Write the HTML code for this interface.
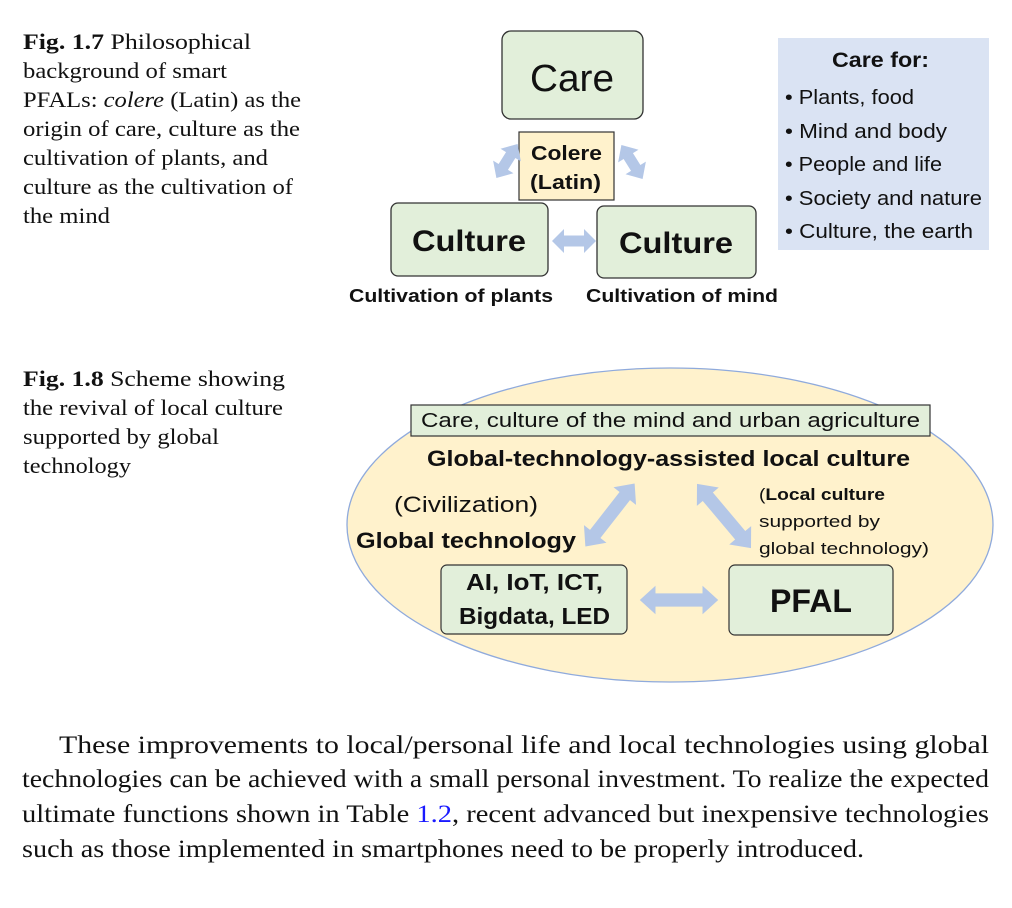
<!DOCTYPE html>
<html><head><meta charset="utf-8"><style>
html,body{margin:0;padding:0;background:#fff;width:1012px;height:908px;overflow:hidden;position:relative}
svg{position:absolute;left:0;top:0}
</style></head><body>
<svg width="1012" height="908" viewBox="0 0 1012 908" font-family="Liberation Sans, sans-serif">
<defs>
<polygon id="da" points="-40,0 -24,-13 -24,-6 24,-6 24,-13 40,0 24,13 24,6 -24,6 -24,13" fill="#b4c7e7"/>
<polygon id="ds" points="-20,0 -7,-12 -7,-5.5 7,-5.5 7,-12 20,0 7,12 7,5.5 -7,5.5 -7,12" fill="#b4c7e7"/>
<polygon id="dh" points="-22,0 -10,-12 -10,-5.5 10,-5.5 10,-12 22,0 10,12 10,5.5 -10,5.5 -10,12" fill="#b4c7e7"/>
</defs>
<!-- captions -->
<g font-family="Liberation Serif, serif" font-size="22" fill="#111" lengthAdjust="spacingAndGlyphs">
<text x="23" y="49" textLength="228" lengthAdjust="spacingAndGlyphs"><tspan font-weight="bold">Fig. 1.7</tspan>  Philosophical</text>
<text x="23" y="78" textLength="204" lengthAdjust="spacingAndGlyphs">background of smart</text>
<text x="23" y="107" textLength="278" lengthAdjust="spacingAndGlyphs">PFALs: <tspan font-style="italic">colere</tspan> (Latin) as the</text>
<text x="23" y="136" textLength="277" lengthAdjust="spacingAndGlyphs">origin of care, culture as the</text>
<text x="23" y="165" textLength="245" lengthAdjust="spacingAndGlyphs">cultivation of plants, and</text>
<text x="23" y="194" textLength="270" lengthAdjust="spacingAndGlyphs">culture as the cultivation of</text>
<text x="23" y="223" textLength="87" lengthAdjust="spacingAndGlyphs">the mind</text>
<text x="23" y="386" textLength="262" lengthAdjust="spacingAndGlyphs"><tspan font-weight="bold">Fig. 1.8</tspan>  Scheme showing</text>
<text x="23" y="415" textLength="260" lengthAdjust="spacingAndGlyphs">the revival of local culture</text>
<text x="23" y="444" textLength="196" lengthAdjust="spacingAndGlyphs">supported by global</text>
<text x="23" y="473" textLength="108" lengthAdjust="spacingAndGlyphs">technology</text>
</g>
<!-- Fig 1.7 -->
<rect x="502" y="31" width="141" height="88" rx="9" fill="#e2efda" stroke="#333" stroke-width="1.3"/>
<text x="530" y="91" font-size="38" textLength="84" lengthAdjust="spacingAndGlyphs" fill="#111">Care</text>
<rect x="519" y="132" width="95" height="68" fill="#fff2cc" stroke="#333" stroke-width="1.2"/>
<text x="531" y="160" font-size="20" font-weight="bold" textLength="71" lengthAdjust="spacingAndGlyphs" fill="#111">Colere</text>
<text x="530" y="189" font-size="20" font-weight="bold" textLength="71" lengthAdjust="spacingAndGlyphs" fill="#111">(Latin)</text>
<rect x="391" y="203" width="157" height="73" rx="7" fill="#e2efda" stroke="#333" stroke-width="1.3"/>
<text x="412" y="251" font-size="30" font-weight="bold" textLength="114" lengthAdjust="spacingAndGlyphs" fill="#111">Culture</text>
<rect x="597" y="206" width="159" height="72" rx="7" fill="#e2efda" stroke="#333" stroke-width="1.3"/>
<text x="619" y="253" font-size="30" font-weight="bold" textLength="114" lengthAdjust="spacingAndGlyphs" fill="#111">Culture</text>
<text x="349" y="302" font-size="18" font-weight="bold" textLength="204" lengthAdjust="spacingAndGlyphs" fill="#111">Cultivation of plants</text>
<text x="586" y="302" font-size="18" font-weight="bold" textLength="192" lengthAdjust="spacingAndGlyphs" fill="#111">Cultivation of mind</text>
<use href="#ds" transform="translate(507,161) rotate(-58)"/>
<use href="#ds" transform="translate(632,162) rotate(58)"/>
<use href="#dh" transform="translate(574,241)"/>
<rect x="778" y="38" width="211" height="212" fill="#dae3f3"/>
<text x="832" y="67" font-size="21" font-weight="bold" textLength="97" lengthAdjust="spacingAndGlyphs" fill="#111">Care for:</text>
<g font-size="20" fill="#111">
<text x="785" y="104" textLength="129" lengthAdjust="spacingAndGlyphs">• Plants, food</text>
<text x="785" y="138" textLength="162" lengthAdjust="spacingAndGlyphs">• Mind and body</text>
<text x="785" y="171" textLength="157" lengthAdjust="spacingAndGlyphs">• People and life</text>
<text x="785" y="205" textLength="197" lengthAdjust="spacingAndGlyphs">• Society and nature</text>
<text x="785" y="238" textLength="188" lengthAdjust="spacingAndGlyphs">• Culture, the earth</text>
</g>
<!-- Fig 1.8 -->
<ellipse cx="670" cy="525" rx="323" ry="157" fill="#fff2cc" stroke="#8faadc" stroke-width="1.3"/>
<rect x="411" y="405" width="519" height="31" fill="#e2efda" stroke="#333" stroke-width="1.2"/>
<text x="421" y="427" font-size="20" textLength="499" lengthAdjust="spacingAndGlyphs" fill="#111">Care, culture of the mind and urban agriculture</text>
<text x="427" y="466" font-size="22" font-weight="bold" textLength="483" lengthAdjust="spacingAndGlyphs" fill="#111">Global-technology-assisted local culture</text>
<text x="394" y="512" font-size="22" textLength="144" lengthAdjust="spacingAndGlyphs" fill="#111">(Civilization)</text>
<text x="356" y="548" font-size="22" font-weight="bold" textLength="220" lengthAdjust="spacingAndGlyphs" fill="#111">Global technology</text>
<text x="759" y="500" font-size="17" fill="#111" textLength="126" lengthAdjust="spacingAndGlyphs">(<tspan font-weight="bold">Local culture</tspan></text>
<text x="759" y="527" font-size="17" fill="#111" textLength="121" lengthAdjust="spacingAndGlyphs">supported by</text>
<text x="759" y="554" font-size="17" fill="#111" textLength="170" lengthAdjust="spacingAndGlyphs">global technology)</text>
<use href="#da" transform="translate(610,515) rotate(-52) scale(1.0,1.1)"/>
<use href="#da" transform="translate(724,516) rotate(50) scale(1.05,1.1)"/>
<use href="#da" transform="translate(679,600) scale(0.98,1.1)"/>
<rect x="441" y="565" width="186" height="69" rx="6" fill="#e2efda" stroke="#333" stroke-width="1.2"/>
<text x="466" y="590" font-size="23" font-weight="bold" textLength="137" lengthAdjust="spacingAndGlyphs" fill="#111">AI, IoT, ICT,</text>
<text x="459" y="624" font-size="23" font-weight="bold" textLength="151" lengthAdjust="spacingAndGlyphs" fill="#111">Bigdata, LED</text>
<rect x="729" y="565" width="164" height="70" rx="6" fill="#e2efda" stroke="#333" stroke-width="1.2"/>
<text x="770" y="612" font-size="32" font-weight="bold" textLength="82" lengthAdjust="spacingAndGlyphs" fill="#111">PFAL</text>
<!-- body text -->
<g font-family="Liberation Serif, serif" font-size="25" fill="#111">
<text x="59" y="753" textLength="930" lengthAdjust="spacingAndGlyphs">These improvements to local/personal life and local technologies using global</text>
<text x="22" y="787" textLength="967" lengthAdjust="spacingAndGlyphs">technologies can be achieved with a small personal investment. To realize the expected</text>
<text x="22" y="822" textLength="967" lengthAdjust="spacingAndGlyphs">ultimate functions shown in Table <tspan fill="#1a1aff">1.2</tspan>, recent advanced but inexpensive technologies</text>
<text x="22" y="857" textLength="842" lengthAdjust="spacingAndGlyphs">such as those implemented in smartphones need to be properly introduced.</text>
</g>
</svg>
</body></html>
